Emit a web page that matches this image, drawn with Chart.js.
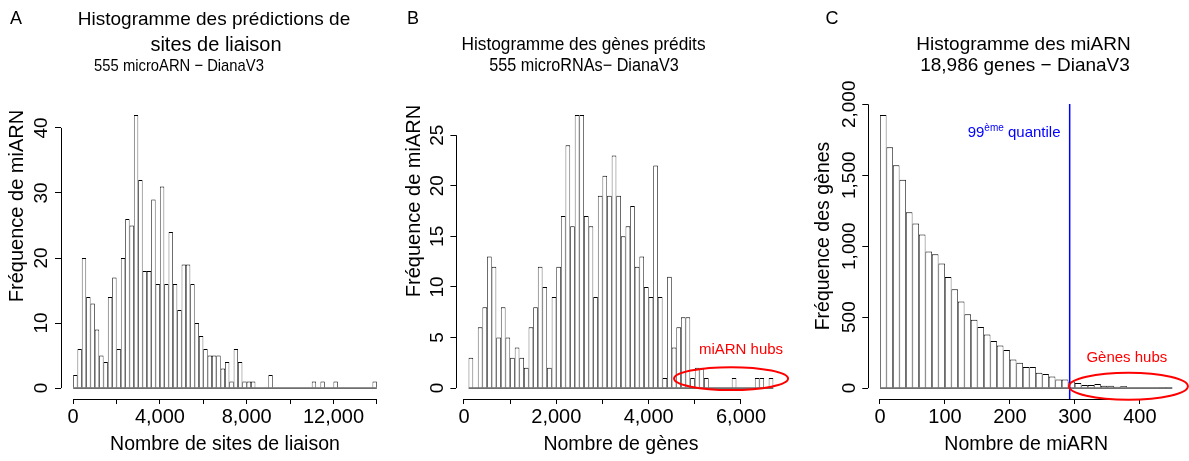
<!DOCTYPE html>
<html lang="fr">
<head>
<meta charset="utf-8">
<title>Histogrammes DianaV3</title>
<script src="https://cdn.jsdelivr.net/npm/chart.js@4.4.1/dist/chart.umd.min.js"></script>
<style>
  html, body { margin: 0; padding: 0; background: #fff; }
  .panel { position: absolute; top: 0; height: 461px; }
  #pA { left: 0; width: 396px; }
  #pB { left: 396px; width: 396px; }
  #pC { left: 807px; width: 382px; }
</style>
</head>
<body>
<div class="panel" id="pA"><canvas id="chartA"></canvas></div>
<div class="panel" id="pB"><canvas id="chartB"></canvas></div>
<div class="panel" id="pC"><canvas id="chartC"></canvas></div>
<script>
// A : sites de liaison par microARN (classes de 200, à partir de 0)
const binStartA = 0, binWidthA = 200;
const countsA = [2, 6, 20, 14, 13, 9, 5, 4, 14, 17, 6, 20, 26, 25, 42, 32, 18, 18, 29, 16,
  31, 16, 24, 16, 12, 19, 19, 16, 10, 8, 6, 5, 5, 5, 3, 4, 1, 6, 4, 1,
  1, 1, 0, 0, 0, 2, 0, 0, 0, 0, 0, 0, 0, 0, 0, 1, 0, 1, 0, 0,
  1, 0, 0, 0, 0, 0, 0, 0, 0, 1];
const xTicksA = [0, 2000, 4000, 6000, 8000, 10000, 12000, 14000];
const xLabelsA = [0, 4000, 8000, 12000];
const yTicksA = [0, 10, 20, 30, 40];

// B : gènes prédits par microARN (classes de 100, à partir de 100)
const binStartB = 100, binWidthB = 100;
const countsB = [3, 0, 6, 8, 13, 12, 5, 8, 5, 3, 4, 3, 2, 6, 8, 12, 10, 2, 9, 12,
  17, 24, 16, 27, 27, 17, 16, 9, 19, 21, 19, 23, 19, 15, 16, 18, 12, 13, 10, 9,
  22, 9, 1, 11, 4, 6, 7, 7, 1, 2, 2, 1, 0, 0, 0, 0, 0, 1, 0, 0,
  0, 0, 1, 1, 0, 1];
const xTicksB = [0, 1000, 2000, 3000, 4000, 5000, 6000];
const xLabelsB = [0, 2000, 4000, 6000];
const yTicksB = [0, 5, 10, 15, 20, 25];

// C : miARN par gène (classes de 10)
const binStartC = 0, binWidthC = 10;
const countsC = [1925, 1697, 1570, 1469, 1239, 1160, 1082, 962, 944, 878, 782, 697, 610, 521, 481,
  430, 378, 331, 300, 268, 202, 178, 148, 148, 108, 99, 82, 61, 61, 47,
  35, 21, 21, 28, 16, 16, 9, 14, 5, 5, 5, 2, 2, 1, 1];
const xTicksC = [0, 100, 200, 300, 400];
const xLabelsC = [0, 100, 200, 300, 400];
const yTicksC = [0, 500, 1000, 1500, 2000];
const quantile99 = 292;

const FONT = '"Liberation Sans", Arial, Helvetica, sans-serif';
Chart.defaults.font.family = FONT;
Chart.defaults.font.size = 19;
Chart.defaults.color = '#000';
Chart.defaults.animation = false;

const fmt = v => v.toLocaleString('en-US');

function histData(start, width, counts) {
  return counts.map((c, i) => ({ x: start + (i + 0.5) * width, y: c }));
}

function ellipse(ctx, x, y, e) {
  const x0 = x.getPixelForValue(e.x0), x1 = x.getPixelForValue(e.x1);
  const y0 = y.getPixelForValue(e.y0), y1 = y.getPixelForValue(e.y1);
  ctx.beginPath();
  ctx.ellipse((x0 + x1) / 2, (y0 + y1) / 2, Math.abs(x1 - x0) / 2, Math.abs(y1 - y0) / 2, 0, 0, 2 * Math.PI);
  ctx.stroke();
}

// ce que R dessine autour des barres : traits d'axes, ligne de base, titres, annotations
function rDecor(p) {
  return {
    id: 'rDecor',
    afterDraw(chart) {
      const { ctx, chartArea: area, scales: { x, y } } = chart;
      ctx.save();
      ctx.strokeStyle = '#000';
      ctx.lineWidth = 1;
      const yb = Math.round(area.bottom) + 0.5;
      const xl = Math.round(area.left) + 0.5;
      ctx.beginPath();
      ctx.moveTo(x.getPixelForValue(p.xTicks[0]), yb);
      ctx.lineTo(x.getPixelForValue(p.xTicks[p.xTicks.length - 1]), yb);
      ctx.moveTo(xl, y.getPixelForValue(p.yTicks[0]));
      ctx.lineTo(xl, y.getPixelForValue(p.yTicks[p.yTicks.length - 1]));
      const y0 = y.getPixelForValue(0);
      ctx.moveTo(x.getPixelForValue(p.start), y0);
      ctx.lineTo(x.getPixelForValue(p.start + p.counts.length * p.width), y0);
      ctx.stroke();

      ctx.fillStyle = '#000';
      ctx.textAlign = 'center';
      ctx.textBaseline = 'middle';
      // [texte, x, y, taille, compression horizontale]
      p.title.forEach(t => {
        ctx.save();
        ctx.translate(t[1], t[2]);
        ctx.scale(t[4] || 1, 1);
        ctx.font = t[3] + 'px ' + FONT;
        ctx.fillText(t[0], 0, 0);
        ctx.restore();
      });
      ctx.font = '18px ' + FONT;
      ctx.fillText(p.letter[0], p.letter[1], p.letter[2]);

      // titre de l'axe y, placé comme sur la figure d'origine
      ctx.save();
      ctx.translate(p.yTitle[1], p.yTitle[2]);
      ctx.rotate(-Math.PI / 2);
      ctx.font = p.yTitle[3] + 'px ' + FONT;
      ctx.fillText(p.yTitle[0], 0, 0);
      ctx.restore();

      if (p.extra) p.extra(ctx, x, y);
      ctx.restore();
    }
  };
}

function makeHist(id, p) {
  return new Chart(document.getElementById(id), {
    type: 'bar',
    data: {
      datasets: [{
        data: histData(p.start, p.width, p.counts),
        backgroundColor: '#fff',
        borderColor: '#000',
        borderWidth: { top: 1, left: 0.75, right: 0.75, bottom: 0 },
        borderSkipped: false,
        inflateAmount: 0,
        barPercentage: 1,
        categoryPercentage: 1
      }]
    },
    options: {
      responsive: true,
      maintainAspectRatio: false,
      events: [],
      layout: { padding: { top: 104, right: p.padRight, bottom: 0, left: 0 } },
      plugins: { legend: { display: false }, tooltip: { enabled: false } },
      scales: {
        x: {
          type: 'linear', offset: false, min: p.xMin, max: p.xMax,
          afterBuildTicks: s => { s.ticks = p.xTicks.map(v => ({ value: v })); },
          afterFit: s => { s.height = 62; },
          border: { display: false },
          grid: { offset: false, drawOnChartArea: false, tickLength: 5, tickColor: '#000' },
          ticks: { autoSkip: false, maxRotation: 0, padding: 1.5, font: { size: 20 },
                   callback: v => p.xLabels.includes(v) ? fmt(v) : '' },
          title: { display: true, text: p.xTitle, font: { size: 19.5 }, padding: { top: 0, bottom: 4.6 } }
        },
        y: {
          type: 'linear', min: p.yMin, max: p.yMax,
          afterBuildTicks: s => { s.ticks = p.yTicks.map(v => ({ value: v })); },
          afterFit: s => { s.width = p.yWidth; },
          border: { display: false },
          grid: { drawOnChartArea: false, tickLength: 6, tickColor: '#000' },
          ticks: { autoSkip: false, minRotation: 90, maxRotation: 90, crossAlign: 'center', padding: p.yPad, callback: v => fmt(v) },
          title: { display: false }
        }
      }
    },
    plugins: [rDecor(p)]
  });
}

makeHist('chartA', {
  start: binStartA, width: binWidthA, counts: countsA,
  xMin: -560, xMax: 14560, yMin: -1.68, yMax: 43.68,
  xTicks: xTicksA, xLabels: xLabelsA, yTicks: yTicksA,
  yWidth: 61, padRight: 7, yPad: 2.5,
  xTitle: 'Nombre de sites de liaison',
  yTitle: ['Fréquence de miARN', 17, 206, 20],
  letter: ['A', 16, 19],
  title: [['Histogramme des prédictions de', 214, 20, 19], ['sites de liaison', 216, 45, 20],
          ['555 microARN − DianaV3', 179, 66, 17, 0.87]]
});

makeHist('chartB', {
  start: binStartB, width: binWidthB, counts: countsB,
  xMin: -164, xMax: 6964, yMin: -1.08, yMax: 28.08,
  xTicks: xTicksB, xLabels: xLabelsB, yTicks: yTicksB,
  yWidth: 60.4, padRight: 6.5, yPad: 2.5,
  xTitle: 'Nombre de gènes',
  yTitle: ['Fréquence de miARN', 18, 201, 20],
  letter: ['B', 17, 19],
  title: [['Histogramme des gènes prédits', 187.5, 45, 19, 0.91], ['555 microRNAs− DianaV3', 188, 66, 18, 0.9]],
  extra(ctx, x, y) {
    ctx.strokeStyle = '#f00';
    ctx.lineWidth = 2;
    ellipse(ctx, x, y, { x0: 4550, x1: 7020, y0: -0.2, y1: 2.07 });
    ctx.fillStyle = '#f00';
    ctx.font = '15px ' + FONT;
    ctx.fillText('miARN hubs', x.getPixelForValue(6000), y.getPixelForValue(3.75));
  }
});

makeHist('chartC', {
  start: binStartC, width: binWidthC, counts: countsC,
  xMin: -18, xMax: 468, yMin: -77, yMax: 2002,
  xTicks: xTicksC, xLabels: xLabelsC, yTicks: yTicksC,
  yWidth: 61.3, padRight: 5, yPad: -10.75,
  xTitle: 'Nombre de miARN',
  yTitle: ['Fréquence des gènes', 17, 236, 19.5],
  letter: ['C', 25, 19],
  title: [['Histogramme des miARN', 216.5, 45, 19], ['18,986 genes − DianaV3', 218, 66, 19]],
  extra(ctx, x, y) {
    // 99e quantile
    ctx.strokeStyle = '#00f';
    ctx.lineWidth = 1.5;
    const qx = x.getPixelForValue(quantile99);
    ctx.beginPath();
    ctx.moveTo(qx, y.top);
    ctx.lineTo(qx, y.bottom);
    ctx.stroke();
    ctx.fillStyle = '#00f';
    ctx.textAlign = 'left';
    ctx.textBaseline = 'alphabetic';
    let tx = x.getPixelForValue(135);
    const by = y.getPixelForValue(1805) + 5.4;
    ctx.font = '15px ' + FONT;
    ctx.fillText('99', tx, by);
    tx += ctx.measureText('99').width;
    ctx.font = '10px ' + FONT;
    ctx.fillText('ème', tx, by - 6);
    tx += ctx.measureText('ème').width;
    ctx.font = '15px ' + FONT;
    ctx.fillText(' quantile', tx, by);
    // gènes hubs
    ctx.strokeStyle = '#f00';
    ctx.lineWidth = 2;
    ellipse(ctx, x, y, { x0: 291, x1: 474, y0: -82, y1: 108 });
    ctx.fillStyle = '#f00';
    ctx.textAlign = 'center';
    ctx.textBaseline = 'middle';
    ctx.fillText('Gènes hubs', x.getPixelForValue(380), y.getPixelForValue(213));
  }
});
</script>
</body>
</html>
